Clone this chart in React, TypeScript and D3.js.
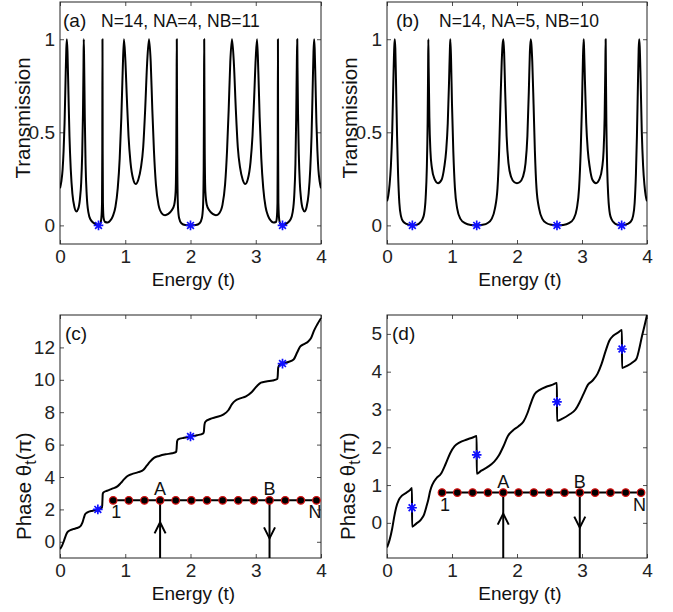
import React, { useRef, useEffect } from 'react';
import * as d3 from 'd3';

type Pt = [number, number];

const energyTicks = [0, 1, 2, 3, 4];
const transTicks = [0, 0.5, 1];
const phaseTicksC = [0, 2, 4, 6, 8, 10, 12];
const phaseTicksD = [0, 1, 2, 3, 4, 5];

// (a) transmission, N=14, NA=4, NB=11
const transA: Pt[] = [
  [0.000, 0.20], [0.020, 0.235], [0.040, 0.30], [0.055, 0.40], [0.070, 0.55], [0.085, 0.78], [0.097, 0.95], [0.105, 1.00],
  [0.115, 0.93], [0.130, 0.70], [0.145, 0.48], [0.165, 0.30], [0.190, 0.17], [0.220, 0.10], [0.250, 0.075], [0.280, 0.09],
  [0.305, 0.14], [0.325, 0.23], [0.340, 0.38], [0.352, 0.60], [0.360, 0.85], [0.364, 1.00],
  [0.370, 0.88], [0.380, 0.58], [0.392, 0.33], [0.410, 0.16], [0.435, 0.07], [0.470, 0.03], [0.520, 0.012], [0.570, 0.003],
  [0.590, 0.000], [0.615, 0.006], [0.634, 0.04], [0.644, 0.12], [0.648, 0.40], [0.651, 1.00], [0.654, 0.40], [0.658, 0.12],
  [0.668, 0.04], [0.690, 0.018], [0.730, 0.015], [0.770, 0.025], [0.810, 0.05], [0.850, 0.10], [0.885, 0.20], [0.915, 0.36],
  [0.940, 0.58], [0.960, 0.82], [0.980, 1.00],
  [1.000, 0.90], [1.025, 0.68], [1.050, 0.48], [1.080, 0.34], [1.120, 0.25], [1.160, 0.222], [1.200, 0.245], [1.240, 0.31],
  [1.275, 0.42], [1.305, 0.62], [1.335, 0.87], [1.364, 1.00],
  [1.390, 0.88], [1.415, 0.62], [1.440, 0.40], [1.470, 0.22], [1.510, 0.11], [1.560, 0.065], [1.610, 0.055], [1.660, 0.062],
  [1.710, 0.08], [1.750, 0.11], [1.772, 0.18], [1.782, 0.40], [1.787, 0.75], [1.790, 1.00], [1.793, 0.70], [1.798, 0.30],
  [1.808, 0.10], [1.825, 0.04], [1.860, 0.012], [1.920, 0.002], [2.000, 0.000],
  [2.080, 0.002], [2.140, 0.012], [2.175, 0.04], [2.192, 0.10], [2.202, 0.30], [2.207, 0.70], [2.210, 1.00], [2.213, 0.75],
  [2.218, 0.40], [2.228, 0.18], [2.250, 0.11], [2.290, 0.08], [2.340, 0.062], [2.390, 0.055], [2.440, 0.065], [2.490, 0.11],
  [2.530, 0.22], [2.560, 0.40], [2.585, 0.62], [2.610, 0.88], [2.636, 1.00],
  [2.665, 0.87], [2.695, 0.62], [2.725, 0.42], [2.760, 0.31], [2.800, 0.245], [2.840, 0.222], [2.880, 0.25], [2.920, 0.34],
  [2.950, 0.48], [2.975, 0.68], [3.000, 0.90], [3.020, 1.00],
  [3.040, 0.82], [3.060, 0.58], [3.085, 0.36], [3.115, 0.20], [3.150, 0.10], [3.190, 0.05], [3.230, 0.025], [3.270, 0.015],
  [3.310, 0.018], [3.323, 0.04], [3.333, 0.12], [3.337, 0.40], [3.340, 1.00], [3.343, 0.40], [3.347, 0.12], [3.360, 0.03],
  [3.380, 0.006], [3.410, 0.000], [3.430, 0.003], [3.480, 0.012], [3.530, 0.03], [3.565, 0.07], [3.590, 0.16], [3.608, 0.33],
  [3.620, 0.58], [3.630, 0.88], [3.636, 1.00],
  [3.640, 0.85], [3.648, 0.60], [3.660, 0.38], [3.675, 0.23], [3.695, 0.14], [3.720, 0.09], [3.750, 0.075], [3.780, 0.10],
  [3.810, 0.17], [3.835, 0.30], [3.855, 0.48], [3.870, 0.70], [3.885, 0.93], [3.895, 1.00],
  [3.903, 0.95], [3.915, 0.78], [3.930, 0.55], [3.945, 0.40], [3.960, 0.30], [3.980, 0.235], [4.000, 0.20],
];

// (b) transmission, N=14, NA=5, NB=10
const transB: Pt[] = [
  [0.000, 0.13], [0.020, 0.16], [0.040, 0.22], [0.060, 0.32], [0.080, 0.50], [0.098, 0.78], [0.112, 0.96], [0.120, 1.00],
  [0.128, 0.95], [0.140, 0.75], [0.155, 0.48], [0.170, 0.28], [0.190, 0.12], [0.215, 0.05], [0.250, 0.02], [0.300, 0.008],
  [0.350, 0.002], [0.400, 0.000], [0.450, 0.003], [0.500, 0.012], [0.540, 0.03], [0.570, 0.06], [0.595, 0.15], [0.612, 0.30],
  [0.625, 0.55], [0.632, 0.82], [0.636, 1.00],
  [0.641, 0.85], [0.652, 0.58], [0.668, 0.40], [0.690, 0.31], [0.730, 0.25], [0.785, 0.227], [0.840, 0.245], [0.880, 0.31],
  [0.910, 0.40], [0.935, 0.55], [0.955, 0.78], [0.968, 0.95], [0.974, 1.00],
  [0.985, 0.90], [1.000, 0.65], [1.020, 0.40], [1.045, 0.20], [1.080, 0.09], [1.130, 0.035], [1.200, 0.012], [1.290, 0.002],
  [1.380, 0.000], [1.470, 0.003], [1.550, 0.013], [1.610, 0.035], [1.660, 0.09], [1.700, 0.20], [1.725, 0.40], [1.745, 0.65],
  [1.765, 0.88], [1.778, 0.97], [1.790, 1.00],
  [1.802, 0.93], [1.818, 0.72], [1.840, 0.48], [1.870, 0.33], [1.910, 0.26], [1.960, 0.232], [2.000, 0.227], [2.040, 0.232],
  [2.090, 0.26], [2.130, 0.33], [2.160, 0.48], [2.182, 0.72], [2.198, 0.93], [2.210, 1.00],
  [2.222, 0.97], [2.235, 0.88], [2.255, 0.65], [2.275, 0.40], [2.300, 0.20], [2.340, 0.09], [2.390, 0.035], [2.450, 0.013],
  [2.530, 0.003], [2.615, 0.000], [2.710, 0.002], [2.800, 0.012], [2.870, 0.035], [2.920, 0.09], [2.955, 0.20], [2.980, 0.40],
  [3.000, 0.65], [3.015, 0.90], [3.026, 1.00],
  [3.032, 0.95], [3.045, 0.78], [3.065, 0.55], [3.090, 0.40], [3.120, 0.31], [3.160, 0.245], [3.215, 0.227], [3.270, 0.25],
  [3.310, 0.31], [3.332, 0.40], [3.348, 0.58], [3.359, 0.85], [3.364, 1.00],
  [3.368, 0.82], [3.375, 0.55], [3.388, 0.30], [3.405, 0.15], [3.430, 0.06], [3.460, 0.03], [3.500, 0.012], [3.550, 0.003],
  [3.610, 0.000], [3.650, 0.002], [3.700, 0.008], [3.750, 0.02], [3.785, 0.05], [3.810, 0.12], [3.830, 0.28], [3.845, 0.48],
  [3.860, 0.75], [3.872, 0.95], [3.880, 1.00],
  [3.888, 0.96], [3.902, 0.78], [3.920, 0.50], [3.940, 0.32], [3.960, 0.22], [3.980, 0.16], [4.000, 0.13],
];

// (c) transmission phase (units of pi), NA=4, NB=11
const phaseC: Pt[] = [
  [0.000, -0.45], [0.030, -0.25], [0.060, 0.05], [0.090, 0.40], [0.110, 0.58], [0.140, 0.68], [0.200, 0.78], [0.260, 0.85],
  [0.310, 0.95], [0.340, 1.15], [0.364, 1.45], [0.385, 1.70], [0.420, 1.82], [0.500, 1.92], [0.590, 2.00], [0.640, 2.10],
  [0.647, 2.25], [0.651, 2.60], [0.655, 2.95], [0.665, 3.05], [0.720, 3.15], [0.800, 3.28], [0.880, 3.42], [0.930, 3.62],
  [0.980, 3.85], [1.030, 4.05], [1.100, 4.18], [1.200, 4.30], [1.280, 4.45], [1.330, 4.70], [1.380, 4.95], [1.440, 5.18],
  [1.520, 5.30], [1.620, 5.40], [1.720, 5.47], [1.780, 5.55], [1.787, 5.75], [1.790, 5.95], [1.795, 6.20], [1.810, 6.32],
  [1.900, 6.42], [2.000, 6.50], [2.100, 6.58], [2.190, 6.68], [2.205, 6.80], [2.210, 7.05], [2.215, 7.25], [2.230, 7.42],
  [2.300, 7.58], [2.400, 7.70], [2.500, 7.85], [2.580, 8.12], [2.636, 8.50], [2.690, 8.72], [2.760, 8.85], [2.850, 8.98],
  [2.940, 9.25], [3.020, 9.62], [3.080, 9.82], [3.160, 9.90], [3.260, 9.96], [3.330, 10.05], [3.337, 10.25], [3.340, 10.50],
  [3.344, 10.75], [3.360, 10.90], [3.410, 11.00], [3.500, 11.10], [3.580, 11.25], [3.636, 11.70], [3.680, 12.05], [3.740, 12.20],
  [3.800, 12.35], [3.850, 12.60], [3.895, 13.05], [3.940, 13.40], [4.000, 13.80],
];

// (d) transmission phase (units of pi), NA=5, NB=10
const phaseD: Pt[] = [
  [0.000, -0.65], [0.040, -0.45], [0.080, -0.15], [0.110, 0.15], [0.140, 0.40], [0.180, 0.60], [0.230, 0.72], [0.300, 0.80],
  [0.350, 0.86], [0.384, 0.92], [0.386, -0.10], [0.450, -0.02], [0.520, 0.08], [0.570, 0.22], [0.610, 0.45], [0.636, 0.62],
  [0.665, 0.85], [0.700, 1.02], [0.760, 1.18], [0.830, 1.30], [0.900, 1.55], [0.974, 1.85], [1.040, 2.03], [1.120, 2.13],
  [1.220, 2.20], [1.320, 2.26], [1.379, 2.30], [1.381, 1.30], [1.450, 1.38], [1.550, 1.48], [1.650, 1.62], [1.720, 1.78],
  [1.790, 2.02], [1.860, 2.30], [1.940, 2.45], [2.020, 2.55], [2.100, 2.68], [2.160, 2.90], [2.210, 3.15], [2.270, 3.40],
  [2.350, 3.52], [2.450, 3.60], [2.540, 3.65], [2.614, 3.70], [2.616, 2.70], [2.700, 2.76], [2.800, 2.86], [2.900, 3.00],
  [2.960, 3.18], [3.026, 3.42], [3.090, 3.65], [3.160, 3.76], [3.240, 3.95], [3.300, 4.20], [3.364, 4.55], [3.420, 4.82],
  [3.480, 4.95], [3.550, 5.03], [3.614, 5.10], [3.616, 4.10], [3.700, 4.16], [3.780, 4.25], [3.840, 4.35], [3.880, 4.60],
  [3.920, 4.92], [3.960, 5.20], [4.000, 5.50],
];

// antiresonances (blue stars)
const zerosA: Pt[] = [[0.59, 0], [2.0, 0], [3.41, 0]];
const zerosB: Pt[] = [[0.39, 0], [1.38, 0], [2.615, 0], [3.61, 0]];
const zerosC: Pt[] = [[0.58, 2.0], [2.0, 6.5], [3.41, 11.0]];
const zerosD: Pt[] = [[0.385, 0.4], [1.38, 1.8], [2.615, 3.2], [3.615, 4.6]];

const chainSites = d3.range(1, 15); // N = 14

const FONT = "'Liberation Sans', Arial, Helvetica, sans-serif";

const panels = [
  {
    left: 60, right: 321, top: 2, bottom: 244, yDomain: [-0.1, 1.2], yTicks: transTicks,
    data: transA, stars: zerosA, tag: '(a)', tagX: 63, title: 'N=14, NA=4, NB=11', titleX: 101,
    ylabel: 'Transmission', ylabelX: 30, ylabelY: 118,
  },
  {
    left: 387, right: 647, top: 2, bottom: 244, yDomain: [-0.1, 1.2], yTicks: transTicks,
    data: transB, stars: zerosB, tag: '(b)', tagX: 396, title: 'N=14, NA=5, NB=10', titleX: 439,
    ylabel: 'Transmission', ylabelX: 357, ylabelY: 118,
  },
  {
    left: 60, right: 321, top: 315, bottom: 558, yDomain: [-1, 14], yTicks: phaseTicksC,
    data: phaseC, stars: zerosC, tag: '(c)', tagX: 65, phaseX: 31,
    chain: { e0: 0.815, e1: 3.93, y: 2.56, a: 4, b: 11, tipA: 22, tipB: 38 },
  },
  {
    left: 387, right: 647, top: 315, bottom: 558, yDomain: [-0.93, 5.5], yTicks: phaseTicksD,
    data: phaseD, stars: zerosD, tag: '(d)', tagX: 392, phaseX: 355,
    chain: { e0: 0.846, e1: 3.908, y: 0.8, a: 5, b: 10, tipA: 21, tipB: 35 },
  },
];

const App = () => {
  const svgRef = useRef<SVGSVGElement>(null);

  useEffect(() => {
    const svg = d3.select(svgRef.current);
    svg.selectAll('*').remove();

    panels.forEach((p: any, i: number) => {
      const x = d3.scaleLinear().domain([0, 4]).range([p.left, p.right]);
      const y = d3.scaleLinear().domain(p.yDomain).range([p.bottom, p.top]);
      const g = svg.append('g');
      const clipId = `clip${i}`;
      g.append('clipPath').attr('id', clipId).append('rect')
        .attr('x', p.left).attr('y', p.top).attr('width', p.right - p.left).attr('height', p.bottom - p.top);

      // axes, ticks inside on all four sides
      const styleAxis = (a: any) => {
        a.select('.domain').remove();
        a.attr('font-family', FONT).attr('font-size', 19).attr('color', '#222');
        a.selectAll('line').attr('stroke-width', 0.8);
      };
      g.append('g').attr('transform', `translate(0,${p.bottom})`)
        .call(d3.axisBottom(x).tickValues(energyTicks).tickSize(-4).tickPadding(6).tickFormat((d: any) => String(d)))
        .call(styleAxis);
      g.append('g').attr('transform', `translate(0,${p.top})`)
        .call(d3.axisTop(x).tickValues(energyTicks).tickSize(-4).tickFormat(() => ''))
        .call(styleAxis);
      g.append('g').attr('transform', `translate(${p.left},0)`)
        .call(d3.axisLeft(y).tickValues(p.yTicks).tickSize(-4).tickPadding(5).tickFormat((d: any) => String(d)))
        .call(styleAxis);
      g.append('g').attr('transform', `translate(${p.right},0)`)
        .call(d3.axisRight(y).tickValues(p.yTicks).tickSize(-4).tickFormat(() => ''))
        .call(styleAxis);

      g.append('rect')
        .attr('x', p.left).attr('y', p.top)
        .attr('width', p.right - p.left).attr('height', p.bottom - p.top)
        .attr('fill', 'none').attr('stroke', '#222').attr('stroke-width', 1);

      // curve
      const line = d3.line<Pt>().x(d => x(d[0])).y(d => y(d[1])).curve(d3.curveMonotoneX);
      g.append('path')
        .datum(p.data)
        .attr('clip-path', `url(#${clipId})`)
        .attr('d', line)
        .attr('fill', 'none')
        .attr('stroke', '#000')
        .attr('stroke-width', 2)
        .attr('stroke-linejoin', 'round');

      // blue asterisks
      const r = 4.8;
      const star = (cx: number, cy: number) => {
        const k = r * Math.SQRT1_2;
        return `M${cx - r},${cy}L${cx + r},${cy}M${cx},${cy - r}L${cx},${cy + r}` +
          `M${cx - k},${cy - k}L${cx + k},${cy + k}M${cx - k},${cy + k}L${cx + k},${cy - k}`;
      };
      g.selectAll('path.star').data(p.stars).enter().append('path')
        .attr('class', 'star')
        .attr('d', (d: Pt) => star(x(d[0]), y(d[1])))
        .attr('stroke', '#1010ff').attr('stroke-width', 1.7).attr('fill', 'none');

      // chain inset
      if (p.chain) {
        const c = p.chain;
        const site = d3.scaleLinear().domain([1, chainSites.length]).range([x(c.e0), x(c.e1)]);
        const cy = y(c.y);
        const xa = site(c.a);
        const xb = site(c.b);
        const arrowStyle = (s: any) => s.attr('stroke', '#000').attr('stroke-width', 2).attr('fill', 'none');
        g.append('line').attr('x1', xa).attr('x2', xa).attr('y1', cy).attr('y2', p.bottom).call(arrowStyle);
        g.append('line').attr('x1', xb).attr('x2', xb).attr('y1', cy).attr('y2', p.bottom).call(arrowStyle);
        const ta = cy + c.tipA;
        const tb = cy + c.tipB;
        g.append('path').attr('d', `M${xa - 5.5},${ta + 11}L${xa},${ta}L${xa + 5.5},${ta + 11}`).call(arrowStyle);
        g.append('path').attr('d', `M${xb - 5.5},${tb - 11}L${xb},${tb}L${xb + 5.5},${tb - 11}`).call(arrowStyle);

        g.append('line').attr('x1', site(1) - 3).attr('x2', site(chainSites.length) + 3)
          .attr('y1', cy).attr('y2', cy).call(arrowStyle);
        g.selectAll('circle.site').data(chainSites).enter().append('circle')
          .attr('class', 'site')
          .attr('cx', (d: number) => site(d)).attr('cy', cy).attr('r', 3.8)
          .attr('fill', '#000').attr('stroke', '#d81010').attr('stroke-width', 1.2);

        const lab = (t: string, lx: number, ly: number, anchor: string) =>
          g.append('text').attr('x', lx).attr('y', ly).attr('text-anchor', anchor)
            .attr('font-family', FONT).attr('font-size', 18).attr('fill', '#111').text(t);
        lab('A', xa, cy - 5, 'middle');
        lab('B', xb, cy - 5, 'middle');
        lab('1', site(1) - 2, cy + 18, 'start');
        lab('N', site(chainSites.length) + 5, cy + 18, 'end');
      }

      // panel tag and title
      g.append('text').attr('x', p.tagX).attr('y', p.top + 25)
        .attr('font-family', FONT).attr('font-size', 19).attr('fill', '#111').text(p.tag);
      if (p.title) {
        g.append('text').attr('x', p.titleX).attr('y', p.top + 25)
          .attr('font-family', FONT).attr('font-size', 17.5).attr('fill', '#111').text(p.title);
      }

      // x label
      g.append('text').attr('x', (p.left + p.right) / 2 + 3).attr('y', p.bottom + 42)
        .attr('text-anchor', 'middle').attr('font-family', FONT).attr('font-size', 19)
        .attr('fill', '#111').text('Energy (t)');

      // y label
      if (p.ylabel) {
        g.append('text').attr('transform', `translate(${p.ylabelX},${p.ylabelY}) rotate(-90)`)
          .attr('text-anchor', 'middle').attr('font-family', FONT).attr('font-size', 20.5)
          .attr('fill', '#111').text(p.ylabel);
      } else {
        const t = g.append('text').attr('transform', `translate(${p.phaseX},540) rotate(-90)`)
          .attr('font-family', FONT).attr('font-size', 20.5).attr('fill', '#111');
        t.append('tspan').text('Phase  \u03b8');
        t.append('tspan').attr('dy', 5).attr('font-size', 16).text('t');
        t.append('tspan').attr('dy', -5).text('(\u03c0)');
      }
    });
  }, []);

  return (
    <svg
      ref={svgRef}
      width={673}
      height={612}
      style={{ position: 'absolute', left: 0, top: 0, background: '#fff' }}
    />
  );
};

export default App;
